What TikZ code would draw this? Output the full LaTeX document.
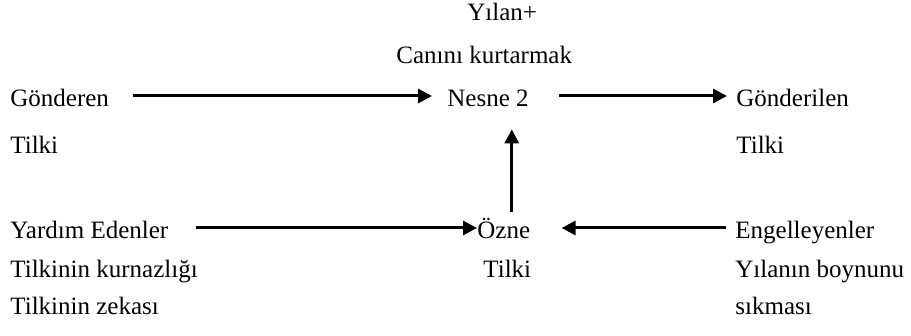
\documentclass[tikz,border=0pt]{standalone}
\usepackage{fontspec}
\setmainfont{Liberation Serif}
\usetikzlibrary{arrows.meta,calc}
\colorlet{acol}{black}
\tikzstyle{lbl}=[inner sep=0pt, text height=11pt, text depth=0pt, anchor=base west, font=\fontsize{12.5}{15}\selectfont]
\tikzstyle{edge}=[line width=1.5pt, acol, -{Triangle[length=7pt,width=7pt]}]

\begin{document}
\begin{tikzpicture}[x=0.5pt, y=-0.5pt]
			\useasboundingbox (0,0) rectangle (911,336);

			\node[lbl] (yilan) at (467, 21) {Yılan+};
			\node[lbl] (canini) at (396, 64) {Canını kurtarmak};
			\node[lbl] (gonderen) at (10, 107) {Gönderen};
			\node[lbl] (nesne) at (447, 107) {Nesne 2};
			\node[lbl] (gonderilen) at (736, 107) {Gönderilen};
			\node[lbl] (tilki1) at (10, 154) {Tilki};
			\node[lbl] (tilki2) at (736, 154) {Tilki};
			\node[lbl] (yardim) at (10, 239) {Yardım Edenler};
			\node[lbl] (ozne) at (477, 239) {Özne};
			\node[lbl] (engel) at (735, 239) {Engelleyenler};
			\node[lbl] (kurnaz) at (10, 278) {Tilkinin kurnazlığı};
			\node[lbl] (tilki3) at (483, 278) {Tilki};
			\node[lbl] (boyun) at (735, 278) {Yılanın boynunu};
			\node[lbl] (zeka) at (10, 315) {Tilkinin zekası};
			\node[lbl] (sikma) at (735, 315) {sıkması};

			% Top row
			\draw[edge] ([xshift=12pt]gonderen.east) -- ([xshift=-7.5pt]nesne.west);
			\draw[edge] ([xshift=15pt]nesne.east) -- ([xshift=-4.5pt]gonderilen.west);
			% Bottom row
			\draw[edge] ([xshift=13.5pt]yardim.east) -- (ozne.west);
			\draw[edge] ([xshift=-4.5pt]engel.west) -- ([xshift=15.5pt]ozne.east);
			% Up to the object
			\draw[edge] ($(ozne.north)+(4pt,2.5pt)$) -- ($(ozne.north |- nesne.south)+(4pt,-11pt)$);
		\end{tikzpicture}
\end{document}
